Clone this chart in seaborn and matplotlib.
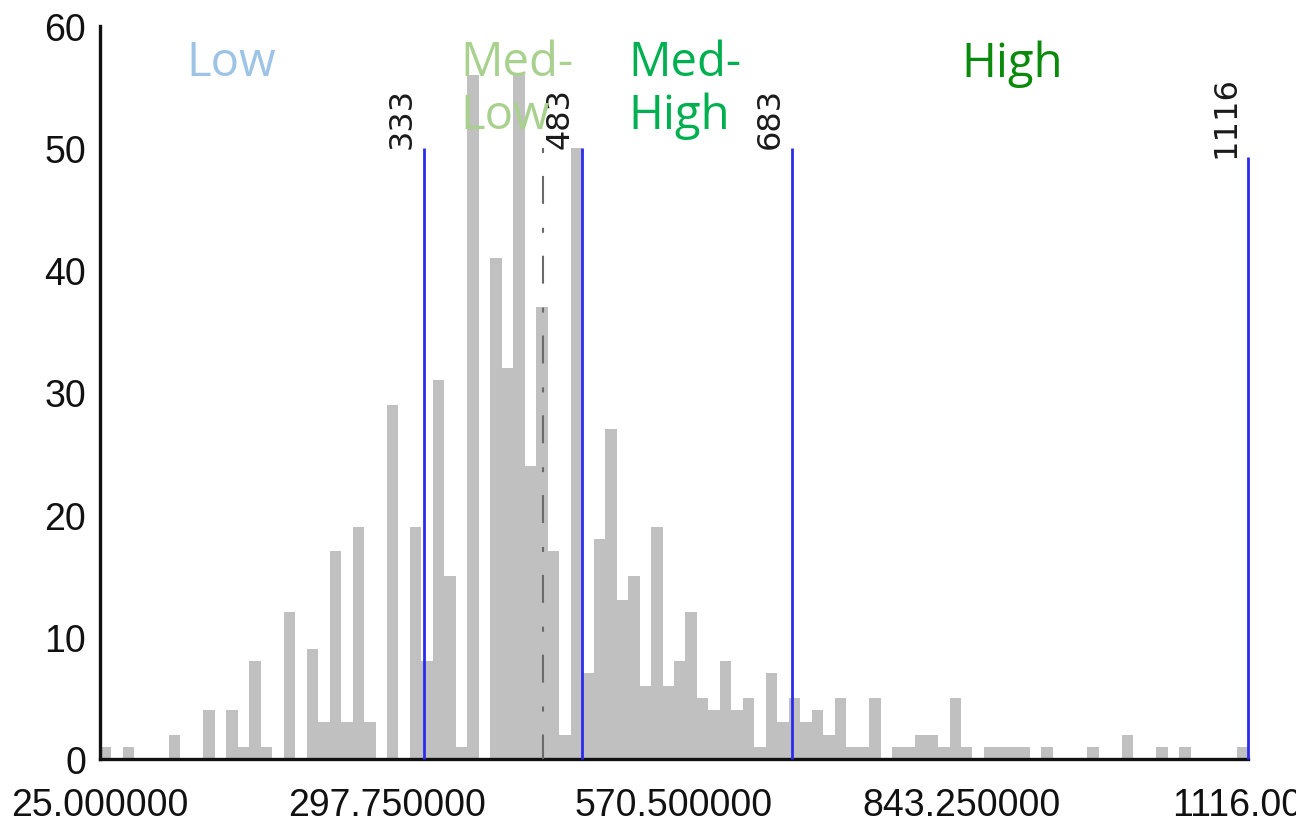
import numpy as np
import pandas as pd
import matplotlib
matplotlib.use('Agg')
import matplotlib.pyplot as plt
import seaborn as sns

# histogram: 100 equal bins between 25 and 1116
x_min = 25.0
x_max = 1116.0
counts = [1, 0, 1, 0, 0, 0, 2, 0, 0, 4,
          0, 4, 1, 8, 1, 0, 12, 0, 9, 3,
          17, 3, 19, 3, 0, 29, 0, 19, 8, 31,
          15, 1, 56, 0, 41, 32, 56, 24, 37, 17,
          2, 50, 7, 18, 27, 13, 15, 6, 19, 6,
          8, 12, 5, 4, 8, 4, 5, 1, 7, 3,
          5, 3, 4, 2, 5, 1, 1, 5, 0, 1,
          1, 2, 2, 1, 5, 1, 0, 1, 1, 1,
          1, 0, 1, 0, 0, 0, 1, 0, 0, 2,
          0, 0, 1, 0, 1, 0, 0, 0, 0, 1]

# class breaks (blue lines) and the mean (dash-dot line)
breaks = [333, 483, 683, 1116]
break_tops = [50, 50, 50, 49.3]
mean_value = 446
mean_top = 50

class_names = ['Low', 'Med-\nLow', 'Med-\nHigh', 'High']
class_colors = ['#9dc3e6', '#a9d18e', '#00b050', '#0a8a0a']
class_x = [231, 460, 628, 1012]   # pixel positions
class_ha = ['center', 'left', 'left', 'center']

y_ticks = [0, 10, 20, 30, 40, 50, 60]
x_ticks = [25.0, 297.75, 570.5, 843.25, 1116.0]
x_tick_labels = ['25.000000', '297.750000', '570.500000', '843.250000', '1116.000']

n_bins = len(counts)
edges = np.linspace(x_min, x_max, n_bins + 1)
centers = (edges[:-1] + edges[1:]) / 2
df = pd.DataFrame({'value': centers, 'count': counts})

sns.set_style('white')
plt.rcParams['font.family'] = ['Liberation Sans', 'DejaVu Sans']

W, H = 1296, 829
fig = plt.figure(figsize=(W / 100, H / 100), dpi=100)
ax = fig.add_axes([100 / W, 1 - 760 / H, (1248 - 100) / W, (760 - 27) / H])

sns.histplot(data=df, x='value', weights='count', bins=n_bins,
             binrange=(x_min, x_max), ax=ax,
             color='#c0c0c0', alpha=1, linewidth=0, element='bars')

for b, top in zip(breaks, break_tops):
    ax.vlines(b, 0, top, color='#2a2af0', lw=2.0, zorder=4, clip_on=False)
    ax.annotate(str(b), xy=(b, top), xytext=(-4.5, 0), textcoords='offset points',
                rotation=90, ha='right', va='bottom', fontsize=23,
                family=['DejaVu Sans'], color='#1a1a1a')

# drawn top-down so the pattern starts with a dot just under the top
ax.vlines(mean_value, mean_top, 0, color='#6a6a6a', lw=1.5,
          linestyles=[(0, (2.4, 11, 13.4, 11.5))], zorder=3)

for name, col, px, ha in zip(class_names, class_colors, class_x, class_ha):
    fig.text(px / W, 1 - 40 / H, name, color=col, ha=ha, va='top',
             fontsize=34, family=['Open Sans', 'DejaVu Sans'], linespacing=1.15)

ax.set_xlim(x_min, x_max)
ax.set_ylim(0, 60)
ax.set_yticks(y_ticks)
ax.set_xticks(x_ticks)
ax.set_xticklabels(x_tick_labels)
ax.set_xlabel('')
ax.set_ylabel('')
for s in ['top', 'right']:
    ax.spines[s].set_visible(False)
for s in ['left', 'bottom']:
    ax.spines[s].set_linewidth(2.4)
    ax.spines[s].set_color('#111111')
ax.tick_params(axis='y', direction='inout', length=20, width=2.2, labelsize=27,
               pad=0, colors='#111111')
ax.tick_params(axis='x', direction='out', length=18, width=2.2, labelsize=27,
               pad=2, colors='#111111')

fig.savefig('out.png', dpi=100)
